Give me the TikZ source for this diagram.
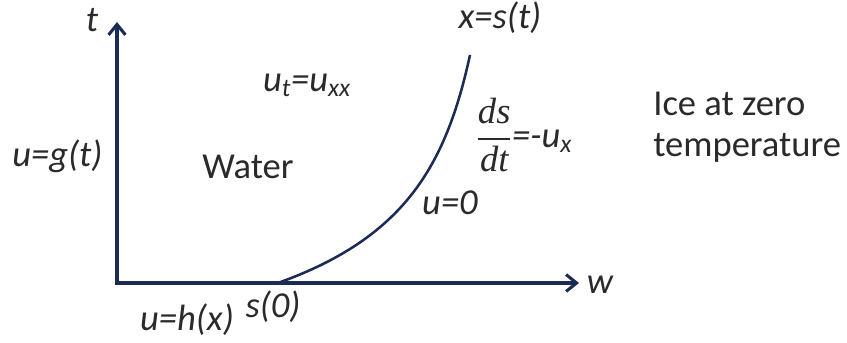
\documentclass[tikz,border=0pt]{standalone}
\usepackage{fontspec}
\setmainfont{Carlito}
\newfontfamily\fracfont{Liberation Serif}
\usepackage{xcolor}
\usetikzlibrary{arrows.meta}

\definecolor{axisnavy}{HTML}{1C2A56}
\definecolor{labelgray}{HTML}{2A2A2A}

\begin{document}
\begin{tikzpicture}[x=0.025cm, y=-0.025cm,
    lbl/.style={text=labelgray, font=\fontsize{26}{29}\selectfont\itshape, inner sep=0pt},
    txt/.style={text=labelgray, font=\fontsize{26}{29}\selectfont, inner sep=0pt}]
    \useasboundingbox (0,0) rectangle (847,342);

    % Axes
    \coordinate (ttop) at (117,22);
    \coordinate (origin) at (117,283);
    \coordinate (wend) at (579,283);
    \draw[axisnavy, line width=2.2pt, line join=miter,
          {Straight Barb[length=2.6mm,width=4.2mm]}-{Straight Barb[length=2.6mm,width=4.2mm]}]
        (ttop) -- (origin) -- (wend);
    \node[lbl] (tlab) at (92,20) {t};
    \node[lbl] (wlab) at (600,285) {w};

    % Free boundary x=s(t)
    \coordinate (szero) at (275,284);
    \coordinate (stop) at (470,55);
    \draw[axisnavy, line width=1.8pt] (szero) .. controls (405,238.5) and (446,165) .. (stop);
    \node[lbl] (front) at (500,18) {x=s(t)};

    % Conditions
    \node[lbl] (heat) at (307,85) {u\textsubscript{t}=u\textsubscript{xx}};
    \node[lbl, anchor=west] (leftbc) at (12,156) {u=g(t)};
    \node[txt] (water) at (248,167) {Water};
    \node[lbl, anchor=west] (stefan) at (476,135)
        {$\displaystyle{\hbox{\fracfont\itshape ds}\above1.3pt\hbox{\fracfont\itshape dt}}$=-u\textsubscript{x}};
    \node[lbl] (zerobc) at (450,203) {u=0};
    \node[lbl] (initbc) at (187,320) {u=h(x)};
    \node[lbl] (slab) at (273,307) {s(0)};

    % Ice region
    \node[txt, align=left, anchor=west] (ice) at (653,127) {Ice at zero\\temperature};
\end{tikzpicture}
\end{document}
